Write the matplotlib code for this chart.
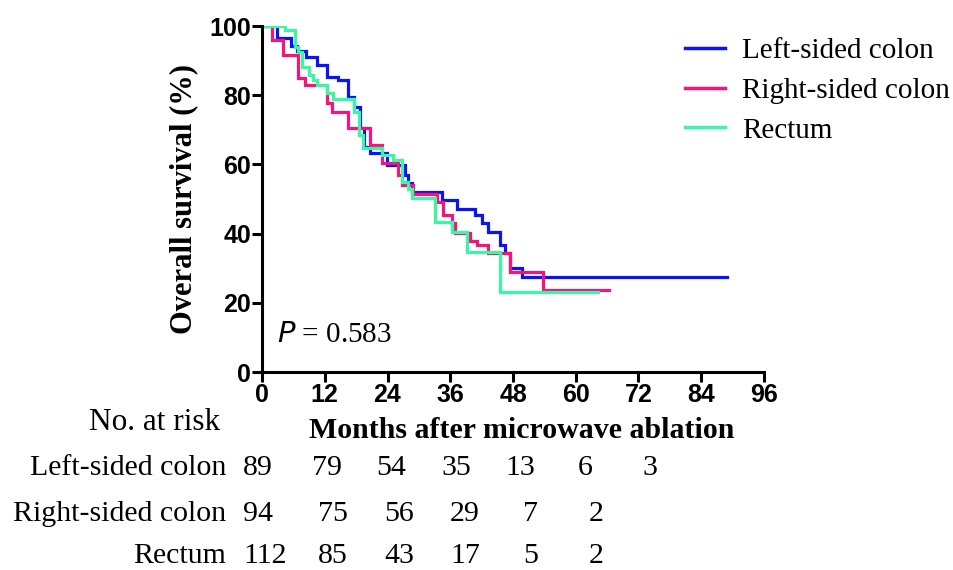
import matplotlib
matplotlib.use("Agg")
import matplotlib.pyplot as plt

# ---- data ----
left_t = [0, 2.9, 5.5, 6.7, 8.5, 10.5, 12.4, 14.6, 16.5, 17.5, 18.7, 19.6, 20.6, 23.9, 27.3, 28.0, 28.7,
          34.4, 37.3, 40.7, 42.0, 43.2, 45.5, 46.5, 47.4, 49.7, 89.0]
left_s = [100, 96.5, 94.3, 92.8, 91.1, 88.7, 85.3, 84.4, 79.6, 76.7, 70.5, 65.1, 63.2, 59.8, 57.0, 54.5, 52.0,
          49.7, 47.1, 45.4, 43.0, 40.5, 36.7, 34.4, 30.0, 27.6, 27.6]

right_t = [0, 1.9, 4.1, 6.9, 8.2, 12.4, 13.3, 16.5, 20.6, 23.0, 26.0, 26.8, 28.9, 33.5, 34.6, 36.3, 37.0,
           39.8, 41.1, 43.2, 47.5, 53.7, 66.3]
right_s = [100, 96.0, 91.6, 84.9, 83.0, 77.7, 75.2, 70.4, 65.5, 60.5, 57.0, 54.0, 51.5, 49.0, 45.5, 43.0, 40.2,
           37.9, 36.7, 34.4, 29.0, 23.7, 23.7]

rect_t = [0, 4.4, 6.3, 6.9, 7.6, 8.9, 9.8, 10.5, 12.4, 13.5, 17.5, 18.5, 19.3, 22.9, 25.0, 26.8, 28.0, 28.7,
          33.1, 36.3, 39.2, 45.5, 64.2]
rect_s = [100, 98.8, 94.0, 92.6, 88.2, 85.8, 84.4, 83.0, 80.5, 79.0, 75.2, 68.5, 64.7, 62.7, 61.3, 55.0, 53.0, 50.3,
          43.4, 40.5, 34.7, 23.1, 23.1]

series_names = ["Left-sided colon", "Right-sided colon", "Rectum"]
risk_times = [0, 12, 24, 36, 48, 60, 72]
risk_left = [89, 79, 54, 35, 13, 6, 3]
risk_right = [94, 75, 56, 29, 7, 2]
risk_rect = [112, 85, 43, 17, 5, 2]
x_ticks = [0, 12, 24, 36, 48, 60, 72, 84, 96]
y_ticks = [0, 20, 40, 60, 80, 100]
p_text = "0.583"

colors = ["#0A14F5", "#F5157A", "#3CF5A5"]

serif = ["Liberation Serif", "DejaVu Serif"]
sans = ["Liberation Sans", "DejaVu Sans"]

fig = plt.figure(figsize=(9.54, 5.70), dpi=100)
ax = fig.add_axes([262/954, 1-372/570, (764-262)/954, (372-26)/570])

for t, s, c, n in zip([left_t, right_t, rect_t], [left_s, right_s, rect_s], colors, series_names):
    ax.step(t, s, where="post", color=c, lw=2.3, label=n, solid_joinstyle="miter")

ax.set_xlim(0, 96)
ax.set_ylim(0, 100)
ax.set_xticks(x_ticks)
ax.set_yticks(y_ticks)
for sp in ["top", "right"]:
    ax.spines[sp].set_visible(False)
for sp in ["left", "bottom"]:
    ax.spines[sp].set_linewidth(2.2)
ax.tick_params(direction="out", length=7, width=2.2, pad=1)
for lab in ax.get_xticklabels() + ax.get_yticklabels():
    lab.set_fontfamily(sans)
    lab.set_fontweight("bold")
    lab.set_fontsize(18)

ax.set_ylabel("Overall survival (%)", fontfamily=serif, fontweight="bold", fontsize=22, labelpad=8)

leg = fig.legend(*ax.get_legend_handles_labels(), loc="upper left", bbox_to_anchor=(685/954, 1-38/570),
                 frameon=False, prop={"family": serif, "size": 21}, handlelength=1.38,
                 handletextpad=0.58, labelspacing=0.45, borderpad=0.0, borderaxespad=0.0)
for h in leg.get_lines():
    h.set_linewidth(2.5)

ax.text(0.03, 0.107, r"$\it{P}$ = " + p_text, transform=ax.transAxes, fontfamily=serif, fontsize=21,
        ha="left", va="center")

# risk table
fig.text(522/954, 1-430/570, "Months after microwave ablation", fontfamily=serif, fontweight="bold",
         fontsize=21.5, ha="center", va="center")
fig.text(220/954, 1-422/570, "No. at risk", fontfamily=serif, fontsize=22.5, ha="right", va="center")
row_y = [468, 514, 556]
trans = matplotlib.transforms.blended_transform_factory(ax.transData, fig.transFigure)
for k, (name, vals, yy) in enumerate(zip(series_names, [risk_left, risk_right, risk_rect], row_y)):
    fig.text(226/954, 1-yy/570, name, fontfamily=serif, fontsize=21.5, ha="right", va="center")
    for t, v in zip(risk_times, vals):
        if t == 0:
            ax.text(-3.6, 1-yy/570, str(v), transform=trans, fontfamily=serif, fontsize=21.5,
                    ha="left", va="center", clip_on=False)
        else:
            xpos = t * 1.03 if k == 0 else t * 1.05 + 1.0
            ax.text(xpos, 1-yy/570, str(v), transform=trans, fontfamily=serif, fontsize=21.5,
                    ha="center", va="center", clip_on=False)

fig.savefig("out.png", dpi=100)
